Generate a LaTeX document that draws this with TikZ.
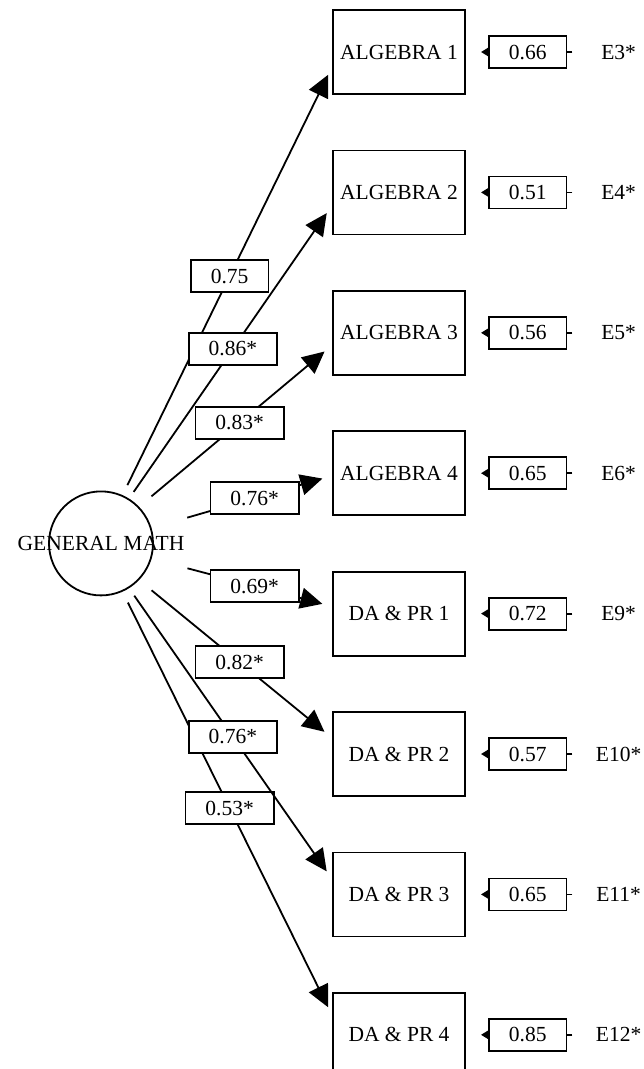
\documentclass[tikz,border=0pt]{standalone}
\usepackage{fontspec}
\setmainfont{Liberation Serif}
\usetikzlibrary{arrows.meta,positioning,backgrounds}

\begin{document}
\begin{tikzpicture}[x=1pt, y=-1pt,
  font=\fontsize{21.5}{25}\selectfont,
  latent/.style={draw, circle, minimum size=104pt, inner sep=0pt, outer sep=0pt, line width=1.8pt},
  ind/.style={draw, rectangle, minimum width=132pt, minimum height=84pt, inner sep=0pt,
              outer sep=0pt, line width=1.8pt},
  coef/.style={draw, fill=white, inner xsep=20pt, inner ysep=0pt, minimum height=32pt, line width=1.8pt},
  elbl/.style={text width=50pt, align=center, inner sep=0pt},
  load/.style={-{Triangle[length=22pt, width=21pt]}, line width=1.8pt, shorten >=11pt},
  res/.style={-{Triangle[length=7pt, width=8pt]}, line width=1.8pt, shorten <=21pt, shorten >=16pt}]
\useasboundingbox (0,0) rectangle (644,1069);
\node[ind] (A1) at (399,52) {ALGEBRA 1};
\node[ind, below=56.4pt of A1] (A2) {ALGEBRA 2};
\node[ind, below=56.4pt of A2] (A3) {ALGEBRA 3};
\node[ind, below=56.4pt of A3] (A4) {ALGEBRA 4};
\node[ind, below=56.4pt of A4] (D1) {DA \& PR 1};
\node[ind, below=56.4pt of D1] (D2) {DA \& PR 2};
\node[ind, below=56.4pt of D2] (D3) {DA \& PR 3};
\node[ind, below=56.4pt of D3] (D4) {DA \& PR 4};
\node[latent, label={[name=GMtxt]center:GENERAL MATH}] (GM) at (101,543.4) {};
\node[coef, right=23pt of A1] (e3) {0.66};  \node[elbl, right=26pt of e3] (E3) {E3*};
\node[coef, right=23pt of A2] (e4) {0.51};  \node[elbl, right=26pt of e4] (E4) {E4*};
\node[coef, right=23pt of A3] (e5) {0.56};  \node[elbl, right=26pt of e5] (E5) {E5*};
\node[coef, right=23pt of A4] (e6) {0.65};  \node[elbl, right=26pt of e6] (E6) {E6*};
\node[coef, right=23pt of D1] (e9) {0.72};  \node[elbl, right=26pt of e9] (E9) {E9*};
\node[coef, right=23pt of D2] (e10) {0.57}; \node[elbl, right=26pt of e10] (E10) {E10*};
\node[coef, right=23pt of D3] (e11) {0.65}; \node[elbl, right=26pt of e11] (E11) {E11*};
\node[coef, right=23pt of D4] (e12) {0.85}; \node[elbl, right=26pt of e12] (E12) {E12*};
\begin{scope}[on background layer]
  \draw[res] (E3.west) -- (A1.east);  \draw[res] (E4.west) -- (A2.east);
  \draw[res] (E5.west) -- (A3.east);  \draw[res] (E6.west) -- (A4.east);
  \draw[res] (E9.west) -- (D1.east);  \draw[res] (E10.west) -- (D2.east);
  \draw[res] (E11.west) -- (D3.east); \draw[res] (E12.west) -- (D4.east);
\end{scope}
% loadings, outer paths first so the labels sit on top
\draw[load, shorten <=12pt] (GM.66) -- node[coef, pos=.51] (l1) {0.75} (A1.191);
\draw[load, shorten <=9pt] (GM.58) -- node[coef, pos=.51] (l2) {0.86*} (A2.190);
\draw[load, shorten <=17pt] (GM.44) -- node[coef, pos=.52] (l3) {0.83*} (A3.190);
\draw[load, shorten <=38pt] (GM.17) -- node[coef, pos=.57] (l4) {0.76*} (A4.182);
\draw[load, shorten <=13pt] (GM.-66) -- node[coef, pos=.51] (l12) {0.53*} (D4.165);
\draw[load, shorten <=10pt] (GM.-58) -- node[coef, pos=.51] (l11) {0.76*} (D3.168);
\draw[load, shorten <=17pt] (GM.-44) -- node[coef, pos=.52] (l10) {0.82*} (D2.167);
\draw[load, shorten <=38pt] (GM.-17) -- node[coef, pos=.57] (l9) {0.69*} (D1.174);
\end{tikzpicture}
\end{document}
